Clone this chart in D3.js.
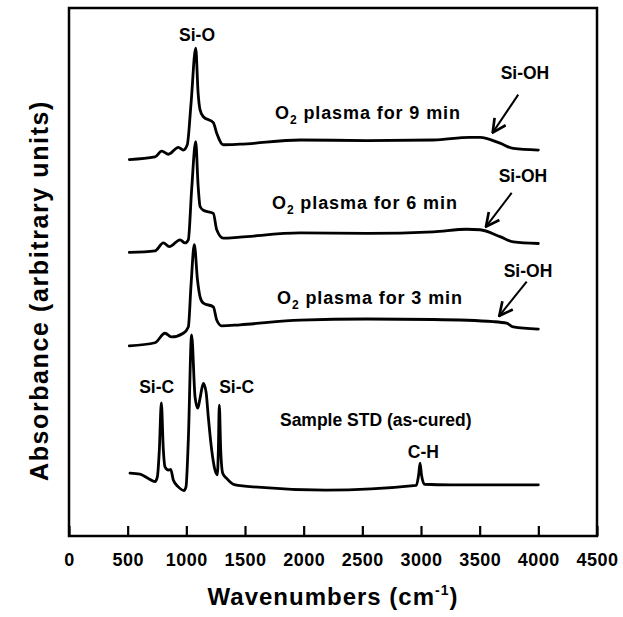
<!DOCTYPE html>
<html>
<head>
<meta charset="utf-8">
<script src="https://cdn.jsdelivr.net/npm/d3@7"></script>
<style>
  html, body { margin: 0; padding: 0; background: #fff; }
  svg { display: block; }
  text { font-family: "Liberation Sans", Arial, Helvetica, sans-serif; font-weight: bold; fill: #000; }
</style>
</head>
<body>
<svg id="chart" width="623" height="617"></svg>
<script>
// ---- Data (wavenumber cm^-1, absorbance in arbitrary units, offset stacked) ----
const xTicks = [0, 500, 1000, 1500, 2000, 2500, 3000, 3500, 4000, 4500];

const std = [
  [520, 11.9], [605, 11.7], [676, 10.9], [733, 10.3], [753, 11.2], [770, 16.3], [787, 25.2],
  [804, 16.3], [818, 13.1], [847, 12.5], [867, 12.6], [889, 10.6], [932, 9.3], [980, 8.6],
  [997, 9.3], [1017, 18.2], [1045, 38.1], [1074, 26.4], [1097, 24.2], [1117, 26.1],
  [1145, 28.9], [1168, 27.3], [1187, 22.6], [1216, 16.3], [1244, 12.5], [1264, 11.6],
  [1273, 16.3], [1281, 24.8], [1293, 16.3], [1310, 11.9], [1344, 10.9], [1400, 9.8],
  [1440, 9.6], [2190, 8.7], [2960, 9.6], [2980, 11.6], [2992, 13.8], [3004, 11.6],
  [3030, 9.8], [3250, 9.7], [4000, 9.7]
];

const plasma3 = [
  [514, 36.0], [733, 36.6], [818, 38.4], [875, 37.7], [974, 38.4], [1017, 39.6], [1040, 47.5],
  [1068, 55.2], [1095, 48.5], [1117, 45.3], [1145, 44.1], [1230, 43.4], [1259, 40.9],
  [1301, 39.8], [1457, 40.0], [1969, 40.9], [2537, 41.1], [3105, 41.0], [3616, 40.6],
  [3730, 40.3], [3787, 39.6], [4000, 39.2]
];

const plasma6 = [
  [514, 53.7], [733, 54.0], [804, 55.5], [855, 54.8], [946, 56.1], [989, 55.5], [1017, 56.1],
  [1045, 65.5], [1080, 74.7], [1100, 66.5], [1117, 62.4], [1145, 61.7], [1230, 61.1],
  [1259, 58.0], [1315, 56.4], [1457, 56.6], [1969, 57.4], [2537, 57.3], [3105, 57.6],
  [3390, 58.1], [3503, 58.0], [3673, 56.7], [3787, 55.7], [4000, 55.4]
];

const plasma9 = [
  [514, 71.3], [733, 71.8], [790, 72.9], [847, 72.3], [932, 73.6], [974, 73.1], [1008, 74.1],
  [1040, 81.9], [1080, 92.4], [1100, 84.0], [1117, 80.7], [1145, 79.4], [1230, 78.3],
  [1259, 76.3], [1315, 74.1], [1457, 74.2], [1969, 75.0], [2537, 74.9], [3105, 75.0],
  [3418, 75.5], [3503, 75.5], [3673, 74.4], [3787, 73.4], [4000, 73.1]
];

const seriesList = [std, plasma3, plasma6, plasma9];

// annotation labels: [text, wavenumber, absorbance, anchor]
const labels = [
  ["Si-O", 1091, 93.75, "middle"],
  ["Si-OH", 3886, 86.6, "middle"],
  ["Si-OH", 3869, 67.0, "middle"],
  ["Si-OH", 3912, 49.1, "middle"],
  ["Si-C", 747, 27.1, "middle"],
  ["Si-C", 1429, 27.1, "middle"],
  ["Sample STD (as-cured)", 1798, 20.8, "start"],
  ["C-H", 3020, 14.8, "middle"]
];
const plasmaLabels = [
  ["9", 1756, 79.0],
  ["6", 1730, 61.9],
  ["3", 1773, 43.9]
];
// arrows: [fromWn, fromAbs, toWn, toAbs]
const arrows = [
  [3829, 83.6, 3611, 76.4],
  [3773, 65.0, 3554, 58.6],
  [3901, 48.2, 3667, 41.7]
];

// ---- Layout ----
const svg = d3.select("#chart");
const mLeft = 69, mRight = 597, mTop = 8, mBottom = 536;
const x = d3.scaleLinear().domain([0, 4500]).range([mLeft, mRight]);
const y = d3.scaleLinear().domain([0, 100]).range([mBottom, mTop]);

svg.append("defs").append("marker")
  .attr("id", "arr").attr("markerUnits", "userSpaceOnUse")
  .attr("markerWidth", 16).attr("markerHeight", 16)
  .attr("viewBox", "0 0 12 12").attr("refX", 11).attr("refY", 6)
  .attr("orient", "auto")
  .append("path").attr("d", "M1,1 L11,6 L1,11")
  .attr("fill", "none").attr("stroke", "#000").attr("stroke-width", 2);

const ax = svg.append("g").attr("transform", `translate(0,${mBottom})`)
  .call(d3.axisBottom(x).tickValues(xTicks).tickSize(-10).tickSizeOuter(0).tickFormat(d3.format("d")));
ax.select(".domain").remove();
ax.selectAll(".tick line").attr("stroke", "#000").attr("stroke-width", 2.2);
ax.selectAll(".tick text")
  .attr("y", 17).attr("dy", "0.71em").attr("fill", "#000")
  .style("font-size", "18px").style("letter-spacing", "0.5px")
  .style("font-family", '"Liberation Sans", Arial, sans-serif').style("font-weight", "bold");

svg.append("rect").attr("x", mLeft).attr("y", mTop)
  .attr("width", mRight - mLeft).attr("height", mBottom - mTop)
  .attr("fill", "none").attr("stroke", "#000").attr("stroke-width", 2.5);

const line = d3.line().x(d => x(d[0])).y(d => y(d[1])).curve(d3.curveMonotoneX);
svg.selectAll("path.spec").data(seriesList).enter().append("path")
  .attr("class", "spec").attr("d", line)
  .attr("fill", "none").attr("stroke", "#000").attr("stroke-width", 2.8)
  .attr("stroke-linejoin", "round").attr("stroke-linecap", "round");

svg.selectAll("text.lab").data(labels).enter().append("text")
  .attr("class", "lab")
  .attr("x", d => x(d[1])).attr("y", d => y(d[2]))
  .attr("text-anchor", d => d[3])
  .style("font-size", "17.5px")
  .text(d => d[0]);

plasmaLabels.forEach(p => {
  const t = svg.append("text").attr("x", x(p[1])).attr("y", y(p[2]))
    .style("font-size", "18px").style("letter-spacing", "0.9px");
  t.append("tspan").text("O");
  t.append("tspan").attr("dy", 5).style("font-size", "12px").text("2");
  t.append("tspan").attr("dy", -5).text(` plasma for ${p[0]} min`);
});

svg.selectAll("line.arrow").data(arrows).enter().append("line")
  .attr("class", "arrow")
  .attr("x1", d => x(d[0])).attr("y1", d => y(d[1]))
  .attr("x2", d => x(d[2])).attr("y2", d => y(d[3]))
  .attr("stroke", "#000").attr("stroke-width", 2)
  .attr("marker-end", "url(#arr)");

const xt = svg.append("text").attr("x", (mLeft + mRight) / 2).attr("y", 605)
  .attr("text-anchor", "middle").style("font-size", "24px").style("letter-spacing", "1px");
xt.append("tspan").text("Wavenumbers (cm");
xt.append("tspan").attr("dy", -10).style("font-size", "14px").text("-1");
xt.append("tspan").attr("dy", 10).text(")");

svg.append("text")
  .attr("transform", `translate(48,${(98 + 483) / 2}) rotate(-90)`)
  .attr("text-anchor", "middle").style("font-size", "25px").style("letter-spacing", "1.6px")
  .text("Absorbance (arbitrary units)");
</script>
</body>
</html>
